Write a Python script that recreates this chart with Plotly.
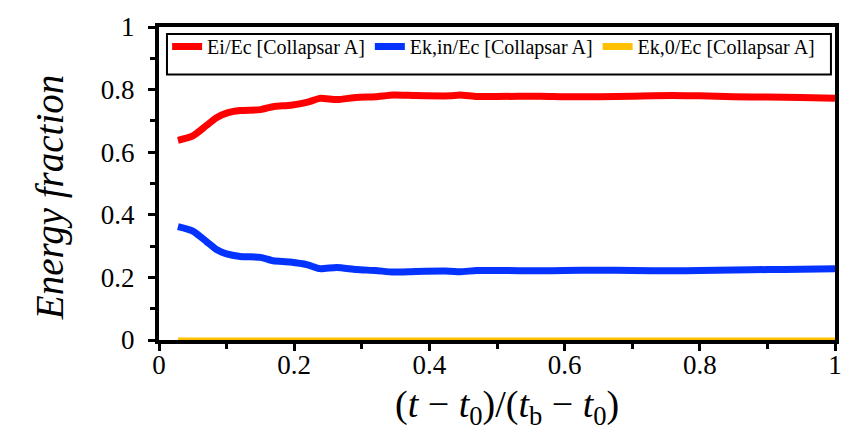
import plotly.graph_objects as go

x_ei = [0.028, 0.05, 0.07, 0.085, 0.1, 0.12, 0.15, 0.17, 0.195, 0.22, 0.238, 0.263, 0.292, 0.32, 0.347, 0.38, 0.43, 0.445, 0.47, 0.5, 0.564, 0.6, 0.65, 0.7, 0.76, 0.8, 0.85, 0.9, 0.95, 1.0]
ei = [0.638, 0.652, 0.685, 0.710, 0.725, 0.733, 0.736, 0.746, 0.750, 0.760, 0.772, 0.768, 0.775, 0.777, 0.783, 0.781, 0.780, 0.783, 0.778, 0.778, 0.779, 0.777, 0.777, 0.779, 0.781, 0.780, 0.777, 0.776, 0.775, 0.772]

x_ek = [0.028, 0.05, 0.07, 0.085, 0.1, 0.12, 0.15, 0.169, 0.194, 0.22, 0.238, 0.263, 0.292, 0.32, 0.347, 0.38, 0.43, 0.445, 0.47, 0.5, 0.564, 0.6, 0.65, 0.7, 0.76, 0.8, 0.85, 0.9, 0.95, 1.0]
ek_in = [0.362, 0.348, 0.315, 0.289, 0.275, 0.267, 0.264, 0.253, 0.249, 0.240, 0.228, 0.232, 0.225, 0.222, 0.217, 0.219, 0.220, 0.218, 0.222, 0.222, 0.221, 0.222, 0.223, 0.222, 0.221, 0.222, 0.224, 0.225, 0.226, 0.228]

x_ek0 = [0.028, 1.0]
ek_0 = [0.0, 0.0]

names = ["Ei/Ec [Collapsar A]", "Ek,in/Ec [Collapsar A]", "Ek,0/Ec [Collapsar A]"]
colors = ["#ff0000", "#0433ff", "#ffc000"]
tick_vals = [0, 0.2, 0.4, 0.6, 0.8, 1.0]
tick_text = ["0", "0.2", "0.4", "0.6", "0.8", "1"]
minor_vals = [0.1, 0.3, 0.5, 0.7, 0.9]
x_title = "(<i>t</i> − <i>t</i><sub>0</sub>)/(<i>t</i><sub>b</sub> − <i>t</i><sub>0</sub>)"
y_title = "<i>Energy fraction</i>"

fig = go.Figure()
fig.add_trace(go.Scatter(x=x_ek0, y=ek_0, mode="lines", name=names[2],
                         line=dict(color=colors[2], width=5), showlegend=False))
fig.add_trace(go.Scatter(x=x_ei, y=ei, mode="lines", name=names[0],
                         line=dict(color=colors[0], width=7, shape="spline", smoothing=0.6)))
fig.add_trace(go.Scatter(x=x_ek, y=ek_in, mode="lines", name=names[1],
                         line=dict(color=colors[1], width=7, shape="spline", smoothing=0.6)))
fig.add_trace(go.Scatter(x=[None], y=[None], mode="lines", name=names[2],
                         line=dict(color=colors[2], width=7)))

font_family = "Liberation Serif, Times New Roman, serif"
axis_common = dict(range=[0, 1], tickvals=tick_vals, ticktext=tick_text,
                   showline=True, linecolor="black", linewidth=4, mirror=True,
                   ticks="outside", ticklen=7, tickwidth=3, tickcolor="black",
                   minor=dict(tickvals=minor_vals, ticks="outside", ticklen=5, tickwidth=3, tickcolor="black"),
                   showgrid=False, zeroline=False, layer="below traces",
                   tickfont=dict(size=27, family=font_family))

fig.update_layout(
    width=865, height=433,
    margin=dict(l=159, r=30, t=17, b=93),
    paper_bgcolor="white", plot_bgcolor="white",
    font=dict(family=font_family, color="black", size=20),
    legend=dict(orientation="h", x=0.012, y=1.0, xanchor="left", yanchor="top",
                borderwidth=0, bgcolor="rgba(0,0,0,0)",
                font=dict(size=20, family=font_family), itemwidth=30),
    shapes=[dict(type="rect", xref="paper", yref="paper",
                 x0=0.0118, x1=0.994, y0=0.848, y1=0.978,
                 line=dict(color="black", width=2), fillcolor="white", layer="above")],
    annotations=[
        dict(text=x_title, xref="paper", yref="paper", x=0.515, y=-0.2136,
             xanchor="center", yanchor="middle", showarrow=False,
             font=dict(size=38, family=font_family)),
        dict(text=y_title, xref="paper", yref="paper", x=-0.161, y=0.4536,
             xanchor="center", yanchor="middle", showarrow=False, textangle=-90,
             font=dict(size=39, family=font_family)),
    ],
    xaxis=dict(**axis_common, ticklabelstandoff=-9),
    yaxis=dict(**axis_common, ticklabelstandoff=8),
)
fig.write_html("out.html", post_script="document.body.style.margin='0';",
               config={"displayModeBar": False})
